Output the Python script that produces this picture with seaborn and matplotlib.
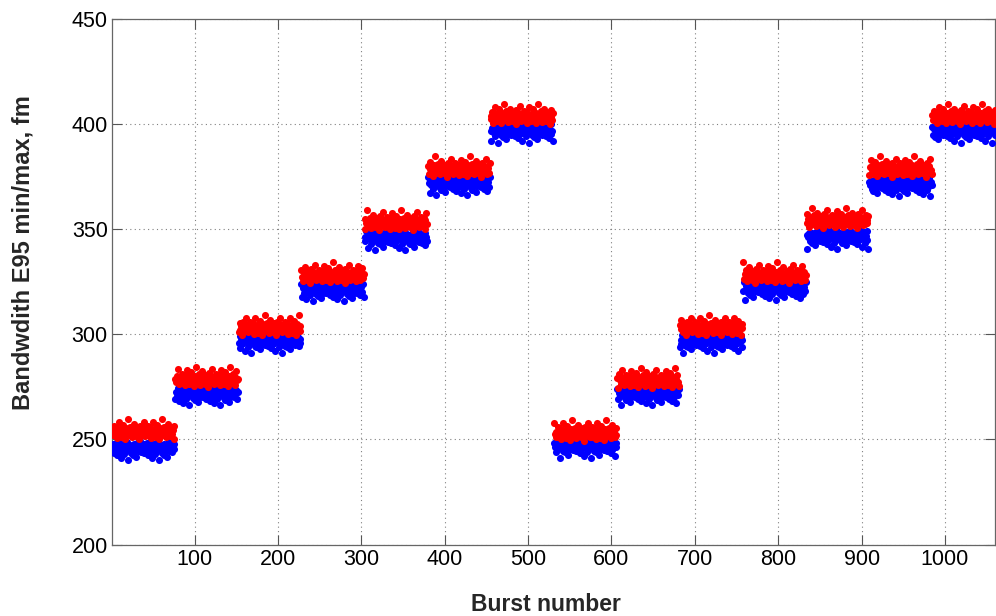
import numpy as np
import pandas as pd
import matplotlib
matplotlib.use("Agg")
import matplotlib.pyplot as plt
import seaborn as sns

# ---- data ----
group_sizes = [76, 76, 75, 76, 76, 75, 76, 76, 75, 76, 76, 75, 76, 76]
red_level = [253.5, 278.5, 303.0, 328.0, 353.0, 378.5, 403.5,
             253.0, 278.0, 303.0, 328.0, 354.0, 378.5, 403.5]
blue_level = [246.0, 272.0, 297.0, 321.5, 346.0, 372.0, 397.0,
              247.0, 272.0, 297.0, 322.0, 346.5, 371.5, 397.0]
# point-to-point scatter around the levels (fm), read from the dot clouds
red_offsets = [0.7, -1.6, 2.8, 0.4, -1.1, 2.2, -2.7, 1.2, 4.6, -0.5, 1.5,
               -2.2, 0.3, 3.5, -1.2, 0.9, -3.1, 1.9, 0.0, 6.2, -1.5, 0.8,
               2.6, -0.7, -2.4, 1.4, 3.9, -0.3, 0.5, -1.9, 2.3, -0.9, 1.1,
               -3.5, 3.1, 0.1, -1.4, 1.8, 5.0, -0.4, -2.0]
blue_offsets = [-0.5, 1.6, -2.6, 0.8, -1.2, 2.4, -3.6, 0.4, -1.8, 3.0, -0.1,
                -4.8, 1.2, -0.8, 2.0, -2.8, 0.3, -1.4, 2.7, -5.8, 0.9, -0.4,
                1.5, -2.3, 0.5, -3.2, 1.9, -1.1, 0.0, -4.2, 2.3, -1.6, 0.7,
                -0.3, 3.2, -2.0, 1.1]
x_ticks = [100, 200, 300, 400, 500, 600, 700, 800, 900, 1000]
y_ticks = [200, 250, 300, 350, 400, 450]

# ---- assemble table ----
burst, vmax, vmin = [], [], []
k = 0
for g, n in enumerate(group_sizes):
    for i in range(n):
        burst.append(k + 1)
        vmax.append(red_level[g] + red_offsets[k % len(red_offsets)])
        vmin.append(blue_level[g] + blue_offsets[k % len(blue_offsets)])
        k += 1
df = pd.DataFrame({"burst": burst, "max": vmax, "min": vmin})

sns.set_style("white")
plt.rcParams["font.family"] = ["Liberation Sans", "DejaVu Sans"]

fig = plt.figure(figsize=(9.96, 6.16), dpi=100)
ax = fig.add_axes([0.1124, 0.116, 0.8866, 0.853])

sns.scatterplot(data=df, x="burst", y="min", ax=ax, color="#0000ff",
                s=26, linewidth=0, legend=False, zorder=3)
sns.scatterplot(data=df, x="burst", y="max", ax=ax, color="#ff0000",
                s=26, linewidth=0, legend=False, zorder=4)

ax.set_xlim(1, 1060)
ax.set_ylim(200, 450)
ax.set_xticks(x_ticks)
ax.set_yticks(y_ticks)
ax.grid(True, color="#808080", linestyle=(0, (1, 3)), linewidth=0.8)
ax.tick_params(direction="in", length=7, width=0.8, colors="#555555",
               labelcolor="black", labelsize=15.5, top=True, right=True,
               bottom=True, left=True, pad=3)
for sp in ax.spines.values():
    sp.set_visible(True)
    sp.set_color("#666666")
    sp.set_linewidth(0.9)

ax.set_xlabel("Burst number", fontsize=16.5, fontweight="bold")
ax.set_ylabel("Bandwdith E95 min/max, fm", fontsize=17, fontweight="bold")
ax.xaxis.set_label_coords(0.4915, -0.093)
ax.yaxis.set_label_coords(-0.088, 0.556)

fig.savefig("out.png", dpi=100)
